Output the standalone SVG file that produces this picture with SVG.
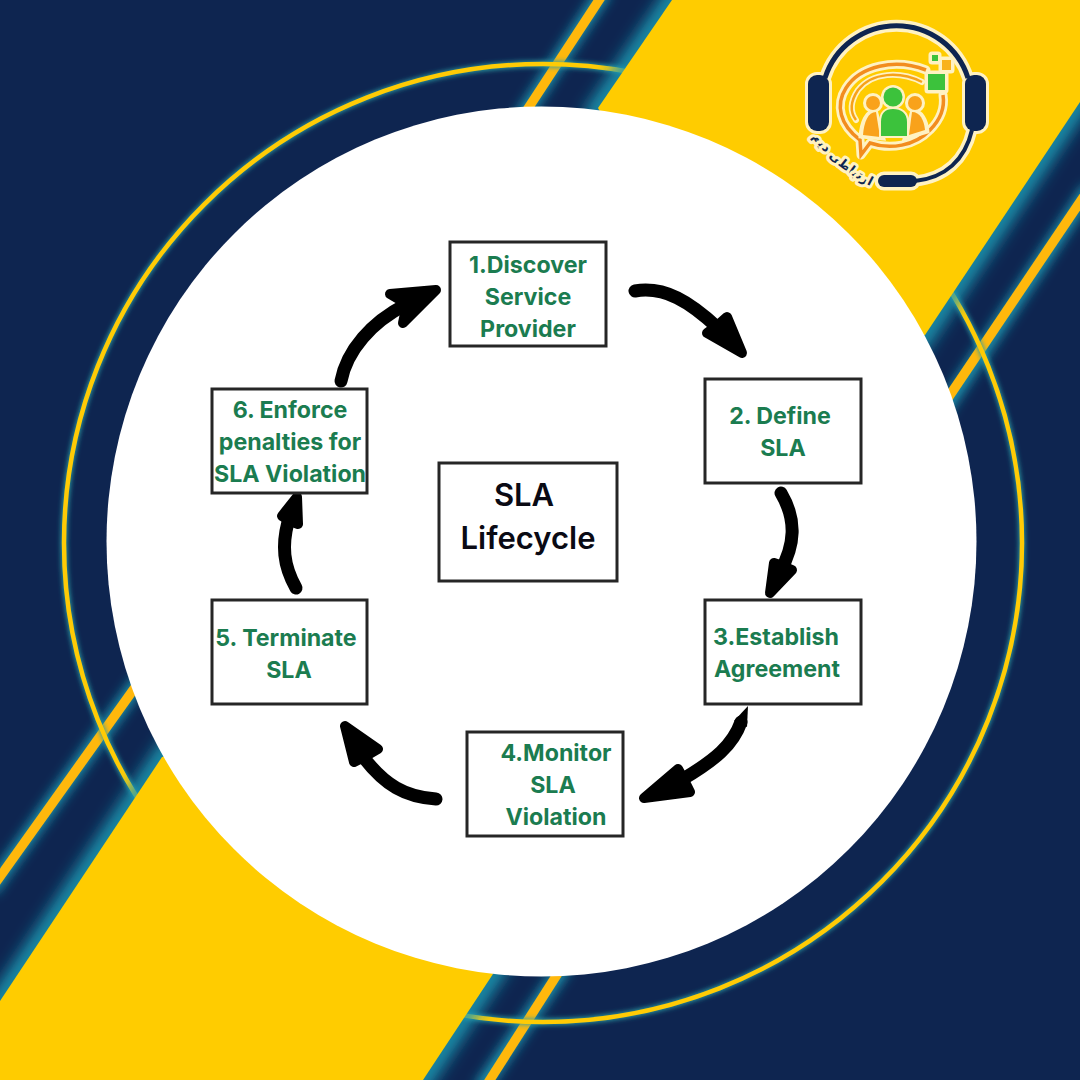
<svg xmlns="http://www.w3.org/2000/svg" width="1080" height="1080" viewBox="0 0 1080 1080">
<defs>
<filter id="g1" filterUnits="userSpaceOnUse" x="-50" y="-50" width="1180" height="1180"><feGaussianBlur stdDeviation="6"/></filter>
<filter id="g4" filterUnits="userSpaceOnUse" x="-50" y="-50" width="1180" height="1180"><feGaussianBlur stdDeviation="8"/></filter>
<filter id="g2" filterUnits="userSpaceOnUse" x="-50" y="-50" width="1180" height="1180"><feGaussianBlur stdDeviation="2.5"/></filter>
<path id="tp" d="M811,130 Q835,166 877,186"/>
</defs>
<style>
.stripe{stroke:#FFB80C;stroke-width:9.5;fill:none}
.sglow{stroke:#1A9BB5;stroke-width:14;fill:none;filter:url(#g1)}
.band{fill:#FFCC00}
.bglow{fill:none;stroke:#1A9BB5;stroke-width:18;filter:url(#g4)}
.box{fill:#fff;stroke:#262626;stroke-width:3}
.t{font-family:"Inter","Noto Sans",sans-serif;font-weight:700;font-size:23.2px;fill:#1B7C50;text-anchor:middle}
.c{font-family:"Inter","Noto Sans",sans-serif;font-weight:600;font-size:31px;fill:#0a0a14;text-anchor:middle}
.shaft{fill:none;stroke:#000;stroke-width:13;stroke-linecap:round}
.head{fill:#000;stroke:#000;stroke-width:10;stroke-linejoin:round}
.navy{fill:none;stroke:#0E2550}
.halo{fill:none;stroke:#FFF2C2;stroke-linecap:round;stroke-linejoin:round}
</style>
<g id="background">
<rect width="1080" height="1080" fill="#0E2550"/>
<g id="stripe-glows">
<path class="sglow" d="M605,-10L520,120"/>
<path class="sglow" d="M1090,188L940,415"/>
<path class="sglow" d="M140,680L-10,890"/>
<path class="sglow" d="M565,965L480,1090"/>
</g>
<g id="stripes">
<path class="stripe" d="M603,-6L527,110"/>
<path class="stripe" d="M1088,190L948,398"/>
<path class="stripe" d="M136,686L-6,885"/>
<path class="stripe" d="M560,970L486,1086"/>
</g>
<circle cx="543" cy="543" r="479" fill="none" stroke="#2BA0A8" stroke-width="6" filter="url(#g2)"/>
<circle cx="543" cy="543" r="479" fill="none" stroke="#FFCB05" stroke-width="4.5"/>
<g id="bands">
<path class="bglow" d="M680,-12L590,120M1090,87L915,350M172,742L-10,1016M503,960L413,1095"/>
<polygon class="band" points="672,0 1080,0 1080,102 925,335 760,400 598,108"/>
<polygon class="band" points="162,757 400,700 493,974 423,1080 0,1080 0,1001"/>
</g>
<circle cx="541.5" cy="541.5" r="435" fill="#fff"/>
</g>
<g id="logo">
<g class="halo">
<path d="M825,78 A75,75 0 0 1 968,78" stroke-width="12"/>
<rect x="809" y="76" width="19" height="54" rx="8" stroke-width="8"/>
<rect x="966" y="76" width="19" height="54" rx="8" stroke-width="8"/>
<path d="M972,130 C965,160 945,178 915,181" stroke-width="11"/>
<rect x="879" y="176" width="37" height="10" rx="5" stroke-width="9"/>
<path d="M926,70 C895,58 860,66 846,88 C835,105 840,125 860,140 L861,155 L870,143 C890,150 915,146 930,130 C940,120 945,108 943,95" stroke-width="9"/>
<path d="M922,82 C900,71 872,72 858,90 C850,102 850,112 856,120" stroke-width="6"/>
<rect x="928" y="74" width="17" height="16" fill="#FFF2C2" stroke-width="7"/>
<rect x="932" y="55" width="6" height="6" fill="#FFF2C2" stroke-width="7"/>
<rect x="942" y="60" width="9" height="10" fill="#FFF2C2" stroke-width="7"/>
</g>
<path d="M926,70 C895,58 860,66 846,88 C835,105 840,125 860,140 L861,155 L870,143 C890,150 915,146 930,130 C940,120 945,108 943,95" fill="none" stroke="#F28C1E" stroke-width="3.5"/>
<path d="M922,82 C900,71 872,72 858,90 C850,102 850,112 856,120" fill="none" stroke="#F7A11A" stroke-width="2.5"/>
<path class="navy" d="M825,78 A75,75 0 0 1 968,78" stroke-width="5"/>
<rect x="808" y="75" width="21" height="56" rx="9" fill="#0E2550"/>
<rect x="965" y="75" width="21" height="56" rx="9" fill="#0E2550"/>
<path class="navy" d="M972,130 C965,160 945,178 915,181" stroke-width="4"/>
<rect x="878" y="175" width="39" height="12" rx="6" fill="#0E2550"/>
<g id="people">
<path d="M860,137 C861,122 866,110 876,110 L884,139Z" fill="#FFF2C2" stroke="#FFF2C2" stroke-width="3"/>
<path d="M928,132 C927,120 922,110 912,110 L904,139Z" fill="#FFF2C2" stroke="#FFF2C2" stroke-width="3"/>
<circle cx="873" cy="103" r="10" fill="#FFF2C2"/><circle cx="915" cy="103" r="10" fill="#FFF2C2"/>
<circle cx="873" cy="103" r="7" fill="#F9A21B"/><circle cx="915" cy="103" r="7" fill="#F9A21B"/>
<path d="M863,135 C864,122 868,112 876,112 L880,137Z" fill="#F9A21B"/>
<path d="M925,130 C924,120 920,112 912,112 L909,135Z" fill="#F9A21B"/>
<circle cx="893" cy="97" r="12" fill="#FFF2C2"/>
<circle cx="893" cy="97" r="9.5" fill="#3CC23C"/>
<path d="M880,137 L880,122 C880,112 886,108 893,108 C901,108 908,112 908,122 L908,137Z" fill="#3CC23C" stroke="#FFF2C2" stroke-width="2"/>
</g>
<rect x="928" y="74" width="17" height="16" fill="#3CC23C"/>
<rect x="932" y="55" width="6" height="6" fill="#3CC23C"/>
<rect x="942" y="60" width="9" height="10" fill="#F9B21B"/>
<text font-family="'DejaVu Sans',sans-serif" font-weight="700" font-size="12.5" fill="#0E2550" stroke="#FFF2C2" stroke-width="6" stroke-linejoin="round" paint-order="stroke" direction="rtl" dy="3"><textPath href="#tp" startOffset="50%" text-anchor="middle">ارتباطی دیم</textPath></text>
</g>
<g id="connectors">
<path class="shaft" d="M635,291 C665,286 690,302 718,328" stroke-width="14"/>
<polygon class="head" points="742,353 727,317 718,325 707,333"/>
<path class="shaft" d="M781,493 C797,520 795,545 780,572" stroke-width="11"/>
<polygon class="head" points="770,593 774,563 783,566 792,570"/>
<path class="shaft" d="M741,722 C733,745 715,760 683,779" stroke-width="14"/>
<polygon points="748,706 734,721 747,727" fill="#000"/>
<polygon class="head" points="644,798 678,769 684,780 690,792"/>
<path class="shaft" d="M436,799 C405,797 385,785 364,758"/>
<polygon class="head" points="345,726 378,749 366,756 354,762"/>
<path class="shaft" d="M296,588 C283,565 282,545 288,522" stroke-width="10"/>
<polygon class="head" points="297,497 282,516 290,521 298,524"/>
<path class="shaft" d="M341,381 C347,350 372,322 405,305"/>
<polygon class="head" points="436,290 390,294 407,304 403,323"/>
</g>
<g id="n1"><rect class="box" x="450" y="242" width="156" height="104"/><text class="t" x="528" y="272.500">1.Discover</text><text class="t" x="528" y="304.500">Service</text><text class="t" x="528" y="336.500">Provider</text></g>
<g id="n2"><rect class="box" x="705" y="379" width="156" height="104"/><text class="t" x="780" y="424">2. Define</text><text class="t" x="783" y="456">SLA</text></g>
<g id="n3"><rect class="box" x="705" y="600" width="156" height="104"/><text class="t" x="776" y="645">3.Establish</text><text class="t" x="777" y="677">Agreement</text></g>
<g id="n4"><rect class="box" x="467" y="732" width="156" height="104"/><text class="t" x="556" y="761">4.Monitor</text><text class="t" x="553" y="793">SLA</text><text class="t" x="556" y="825">Violation</text></g>
<g id="n5"><rect class="box" x="212" y="600" width="155" height="104"/><text class="t" x="286" y="646">5. Terminate</text><text class="t" x="289" y="678">SLA</text></g>
<g id="n6"><rect class="box" x="212" y="389" width="155" height="104"/><text class="t" x="290" y="417.500">6. Enforce</text><text class="t" x="290" y="449.500">penalties for</text><text class="t" x="290" y="481.500">SLA Violation</text></g>
<g id="center"><rect class="box" x="439" y="463" width="178" height="118"/><text class="c" x="524" y="505.500">SLA</text><text class="c" x="528" y="548.500">Lifecycle</text></g>
</svg>
